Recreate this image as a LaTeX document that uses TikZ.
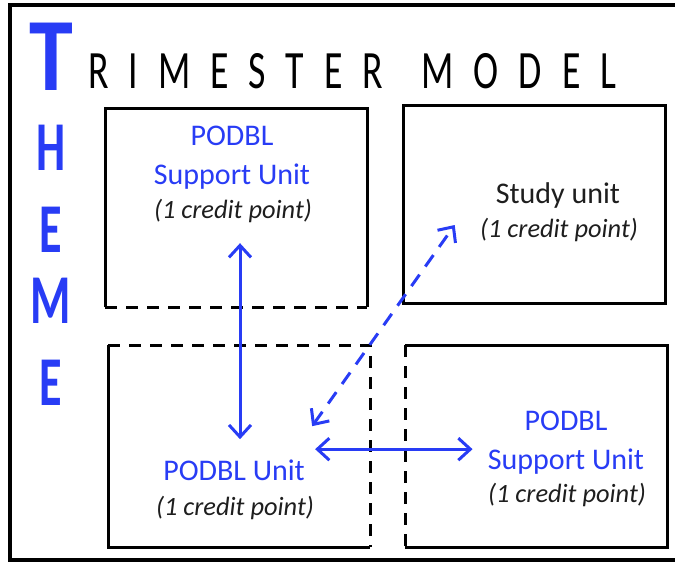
\documentclass[tikz,border=0pt]{standalone}
\usepackage{fontspec}
\setmainfont{Carlito}
\newfontfamily\titlefont[FakeStretch=0.7]{Carlito}
\newfontfamily\themefont[FakeStretch=0.66]{Carlito}
\newfontfamily\bigTfont[FakeStretch=0.85]{Carlito}
\usetikzlibrary{arrows.meta}

\definecolor{themeblue}{RGB}{40,60,245}
\definecolor{inkgray}{RGB}{30,30,30}

\begin{document}
\begin{tikzpicture}[x=0.5pt, y=-0.5pt, >={Straight Barb[length=6pt,width=11pt]}]

		\tikzstyle{unitline}=[line width=1.5pt]
		\tikzstyle{openside}=[line width=1.5pt, dash pattern=on 6pt off 4.5pt]
		\tikzstyle{unitname}=[text=themeblue, font=\fontsize{15}{19.5}\selectfont,
		align=center, inner sep=0pt]
		\tikzstyle{credit}=[text=inkgray, font=\fontsize{13.2}{16}\selectfont\itshape,
		inner sep=0pt]
		\tikzstyle{link}=[<->, draw=themeblue, line width=1.5pt]
		\tikzstyle{letter}=[text=themeblue, inner sep=0pt]

		\useasboundingbox (0,0) rectangle (675,564);

		% Outer frame (runs off the right edge)
		\draw[line width=2pt] (675,5) -| (10,560) -- (675,560);

		% Title, the big T shared with THEME
		\node[letter, font=\bigTfont\bfseries\fontsize{52}{52}\selectfont, anchor=base] (bigT) at (51,90) {T};
		\node[font=\titlefont\fontsize{27}{27}\selectfont\addfontfeature{LetterSpace=37},
		anchor=base west, inner sep=0pt] (title) at (88,88) {RIMESTER\hspace{5pt} MODEL};
		\foreach \ltr/\ypos in {H/148, E/230, M/301, E/383}
		\node[letter, font=\themefont\bfseries\fontsize{35}{35}\selectfont] (theme\ypos) at (51,\ypos) {\ltr};

		% Boxes: solid sides, dashed where two units meet
		\draw[unitline] (105,307) -- (105,108) -- (367,108) -- (367,307);
		\draw[openside] (105,307) -- (367,307);
		\draw[unitline] (403,105) rectangle (665,303);
		\draw[unitline] (108,345) -- (108,547) -- (370,547);
		\draw[openside] (108,345) -- (370,345) -- (370,547);
		\draw[unitline] (405,345) -- (667,345) -- (667,547) -- (405,547);
		\draw[openside] (405,345) -- (405,547);

		% Unit texts
		\node[unitname] (tlname) at (232,158) {PODBL\\Support Unit};
		\node[credit] (tlnote) at (233,211) {(1 credit point)};
		\node[text=inkgray, font=\fontsize{15}{20}\selectfont, inner sep=0pt] (trname) at (558,195) {Study unit};
		\node[credit] (trnote) at (559,230) {(1 credit point)};
		\node[unitname] (blname) at (234,470) {PODBL Unit};
		\node[credit] (blnote) at (235,508) {(1 credit point)};
		\node[unitname] (brname) at (566,443) {PODBL\\Support Unit};
		\node[credit] (brnote) at (567,495) {(1 credit point)};

		% Arrows
		\draw[link, shorten <=10pt, shorten >=10pt] ([xshift=3.5pt]tlnote.south) -- ([xshift=3.5pt]tlnote.south |- blname.north);
		\draw[link] ([shift={(5pt,5pt)}]blname.north east) -- ([shift={(-7.5pt,5pt)}]blname.north east -| brname.west);
		\draw[link, dash pattern=on 7pt off 5pt] ([shift={(3.5pt,16.5pt)}]blname.north east) -- ([shift={(-12.5pt,2.5pt)}]trnote.west);

\end{tikzpicture}
\end{document}
